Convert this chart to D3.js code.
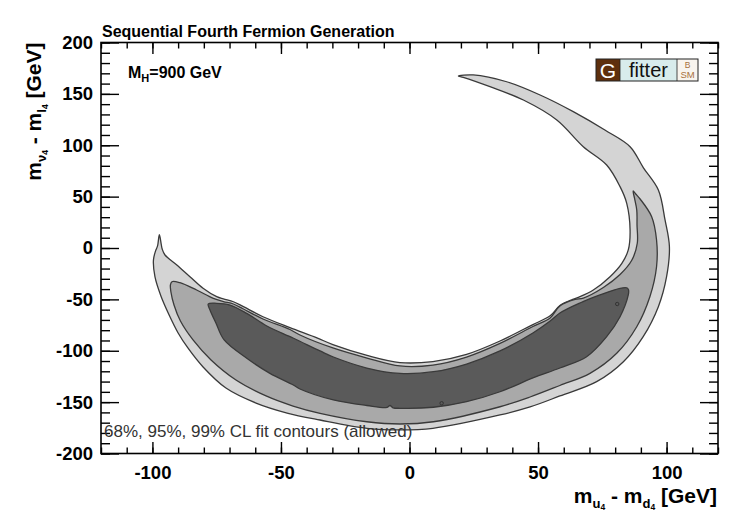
<!DOCTYPE html>
<html>
<head>
<meta charset="utf-8">
<script src="https://cdn.jsdelivr.net/npm/d3@7"></script>
<style>
  html, body { margin: 0; padding: 0; background: #fff; }
  svg { display: block; }
  text { font-family: "Liberation Sans", Arial, Helvetica, sans-serif; }
</style>
</head>
<body>
<svg id="chart" width="736" height="513"></svg>
<script>
// Axis ranges and ticks
const xDomain = [-120, 120];
const yDomain = [-200, 200];
const xMajorTicks = [-100, -50, 0, 50, 100];
const xTickLabels = ["-100", "-50", "0", "50", "100"];
const yMajorTicks = [-200, -150, -100, -50, 0, 50, 100, 150, 200];
const yTickLabels = ["-200", "-150", "-100", "-50", "0", "50", "100", "150", "200"];
const xMinorTicks = d3.range(-120, 121, 10);
const yMinorTicks = d3.range(-200, 201, 10);

// 99% CL allowed region (m_u4 - m_d4, m_nu4 - m_l4) in GeV
const cl99 = [
  [-97.3, 13.0], [-96.6, 4.0], [-96.2, -1.0], [-95.1, -6.8], [-90.5, -16.5],
  [-85.4, -27.9], [-80.3, -39.2], [-75.0, -47.4], [-72.4, -49.6], [-68.5, -52.3],
  [-64.6, -57.1], [-57.0, -66.9], [-46.5, -77.5], [-36.0, -87.5], [-29.8, -94.0],
  [-16.5, -104.5], [-3.7, -111.5], [9.1, -110.5], [22.2, -103.5], [35.2, -90.5],
  [48.0, -74.5], [54.7, -66.0], [58.5, -56.0], [63.5, -50.0], [66.3, -47.4],
  [71.5, -40.9], [78.0, -27.9], [82.6, -14.9], [85.1, -1.9], [85.8, 17.5],
  [84.5, 43.5], [81.9, 59.7], [76.7, 80.8], [67.6, 98.6], [57.3, 124.6],
  [44.3, 144.0], [31.3, 157.0], [20.9, 166.1], [19.0, 167.4], [24.8, 168.4],
  [37.8, 161.8], [50.8, 148.9], [63.7, 132.7], [76.0, 114.8], [85.8, 98.6],
  [91.0, 78.0], [96.8, 56.4], [99.4, 27.3], [101.1, 1.3], [100.0, -27.9],
  [96.8, -57.1], [90.9, -86.3], [83.2, -110.7], [72.8, -130.1], [58.5, -144.0],
  [46.9, -154.7], [35.2, -162.5], [9.1, -175.5], [-3.7, -177.1], [-16.5, -175.5],
  [-34.8, -167.4], [-47.6, -160.6], [-59.7, -150.9], [-71.4, -136.3], [-80.3, -115.8],
  [-86.2, -97.3], [-90.0, -82.7], [-93.5, -65.2], [-96.7, -46.7], [-99.0, -28.2],
  [-99.6, -11.7], [-98.8, -3.0], [-98.0, 2.0]
];

// 95% CL allowed region
const cl95 = [
  [-92.4, -32.8], [-89.3, -33.8], [-82.8, -40.9], [-76.3, -49.0], [-72.4, -52.1],
  [-68.5, -54.5], [-64.6, -59.4], [-57.0, -69.1], [-46.5, -79.3], [-42.6, -84.7],
  [-29.8, -97.3], [-16.5, -107.1], [-3.7, -114.8], [9.1, -113.9], [22.2, -106.1],
  [35.2, -92.8], [48.0, -76.4], [54.7, -68.1], [58.5, -56.4], [64.4, -50.1],
  [67.6, -48.7], [75.4, -38.4], [81.9, -25.8], [86.4, -12.2], [88.6, 4.6],
  [88.5, 22.4], [88.4, 37.0], [87.5, 48.7], [87.0, 55.5], [88.0, 52.6],
  [89.7, 47.7], [94.2, 30.5], [96.1, 7.8], [96.1, -18.2], [93.5, -47.4],
  [88.4, -76.6], [80.6, -102.5], [70.2, -122.0], [58.5, -133.8], [46.9, -145.0],
  [35.2, -154.5], [9.3, -169.1], [-3.7, -171.3], [-16.6, -169.1], [-34.8, -160.9],
  [-45.3, -153.8], [-55.8, -144.0], [-67.5, -128.5], [-77.2, -109.0], [-84.2, -89.5],
  [-89.1, -71.1], [-91.6, -55.5], [-92.8, -42.8], [-93.0, -36.0]
];

// 68% CL allowed region
const cl68 = [
  [-78.3, -54.5], [-75.0, -53.8], [-69.8, -55.5], [-63.3, -63.6], [-55.5, -75.9],
  [-45.3, -87.6], [-34.8, -100.2], [-29.6, -106.1], [-16.6, -116.8], [-3.7, -122.1],
  [9.3, -120.4], [22.2, -112.9], [35.2, -100.2], [48.0, -82.7], [54.7, -71.1],
  [58.5, -63.3], [66.3, -53.5], [74.1, -45.7], [81.9, -39.2], [84.7, -38.9],
  [85.2, -40.9], [85.1, -45.7], [81.9, -66.9], [76.7, -86.3], [68.9, -105.8],
  [58.5, -116.8], [48.0, -126.5], [35.2, -139.9], [22.2, -149.6], [9.3, -155.0],
  [-3.7, -156.0], [-6.4, -155.5], [-7.6, -153.3], [-8.8, -155.2], [-16.6, -153.3],
  [-29.6, -147.9], [-42.6, -137.2], [-45.2, -133.3], [-54.3, -122.0], [-63.3, -107.3],
  [-72.1, -89.5], [-75.3, -73.0], [-77.6, -60.3]
];

// Tiny isolated 68% CL islands
const cl68Islands = [[12.5, -151.1], [80.8, -54.5]];

const regions = [
  { name: "99% CL", points: cl99, fill: "#d4d4d4" },
  { name: "95% CL", points: cl95, fill: "#a9a9a9" },
  { name: "68% CL", points: cl68, fill: "#5a5a5a" }
];

const svg = d3.select("#chart");
const margin = { top: 42.5, right: 18, bottom: 59.5, left: 101 };
const W = 736 - margin.left - margin.right;
const H = 513 - margin.top - margin.bottom;

const x = d3.scaleLinear().domain(xDomain).range([0, W]);
const y = d3.scaleLinear().domain(yDomain).range([H, 0]);

const g = svg.append("g").attr("transform", `translate(${margin.left},${margin.top})`);

// Filled contours, outermost first
const area = d3.line()
  .x(d => x(d[0]))
  .y(d => y(d[1]))
  .curve(d3.curveCatmullRomClosed.alpha(0.5));

g.selectAll("path.contour")
  .data(regions)
  .join("path")
  .attr("class", "contour")
  .attr("d", d => area(d.points))
  .attr("fill", d => d.fill)
  .attr("stroke", "#3a3a3a")
  .attr("stroke-width", 1.3)
  .attr("stroke-linejoin", "round");

g.selectAll("circle.island")
  .data(cl68Islands)
  .join("circle")
  .attr("class", "island")
  .attr("cx", d => x(d[0]))
  .attr("cy", d => y(d[1]))
  .attr("r", 1.7)
  .attr("fill", "#5a5a5a")
  .attr("stroke", "#333")
  .attr("stroke-width", 1);

// Axes with inward ticks on all four sides
function styleAxis(sel) {
  sel.select(".domain").remove();
  sel.selectAll(".tick line").attr("stroke", "#000").attr("stroke-width", 1.4);
  sel.selectAll(".tick text")
    .attr("fill", "#000")
    .style("font-family", '"Liberation Sans", Arial, sans-serif')
    .style("font-weight", "bold")
    .style("font-size", "18.5px");
}

const xLabel = d => xTickLabels[xMajorTicks.indexOf(d)];
const yLabel = d => yTickLabels[yMajorTicks.indexOf(d)];

g.append("g").attr("transform", `translate(0,${H})`)
  .call(d3.axisBottom(x).tickValues(xMinorTicks).tickSize(-6).tickFormat(""))
  .call(styleAxis);
g.append("g").attr("transform", `translate(0,${H})`)
  .call(d3.axisBottom(x).tickValues(xMajorTicks).tickSize(-11.5).tickPadding(12).tickFormat(xLabel))
  .call(styleAxis);
g.append("g")
  .call(d3.axisTop(x).tickValues(xMinorTicks).tickSize(-6).tickFormat(""))
  .call(styleAxis);
g.append("g")
  .call(d3.axisTop(x).tickValues(xMajorTicks).tickSize(-11.5).tickFormat(""))
  .call(styleAxis);

g.append("g")
  .call(d3.axisLeft(y).tickValues(yMinorTicks).tickSize(-9).tickFormat(""))
  .call(styleAxis);
g.append("g")
  .call(d3.axisLeft(y).tickValues(yMajorTicks).tickSize(-18).tickPadding(8).tickFormat(yLabel))
  .call(styleAxis);
g.append("g").attr("transform", `translate(${W},0)`)
  .call(d3.axisRight(y).tickValues(yMinorTicks).tickSize(-9).tickFormat(""))
  .call(styleAxis);
g.append("g").attr("transform", `translate(${W},0)`)
  .call(d3.axisRight(y).tickValues(yMajorTicks).tickSize(-18).tickFormat(""))
  .call(styleAxis);

// Frame
g.append("rect")
  .attr("width", W).attr("height", H)
  .attr("fill", "none").attr("stroke", "#000").attr("stroke-width", 1.6);

// Title
svg.append("text")
  .attr("x", 102).attr("y", 37)
  .attr("font-weight", "bold").attr("font-size", 16)
  .text("Sequential Fourth Fermion Generation");

// Higgs mass annotation
const mh = svg.append("text")
  .attr("x", 128).attr("y", 78)
  .attr("font-weight", "bold").attr("font-size", 16);
mh.append("tspan").text("M");
mh.append("tspan").attr("font-size", 11).attr("dy", 4).text("H");
mh.append("tspan").attr("dy", -4).text("=900 GeV");

// Footnote
svg.append("text")
  .attr("x", 104).attr("y", 437)
  .attr("font-size", 17).attr("fill", "#333")
  .text("68%, 95%, 99% CL fit contours (allowed)");

// Axis titles with nested subscripts
function massDiff(sel, a, b) {
  sel.append("tspan").text("m");
  sel.append("tspan").attr("font-size", 13).attr("dy", 4.5).text(a);
  sel.append("tspan").attr("font-size", 8.5).attr("dy", 2).text("4");
  sel.append("tspan").attr("dy", -6.5).text(" - m");
  sel.append("tspan").attr("font-size", 13).attr("dy", 4.5).text(b);
  sel.append("tspan").attr("font-size", 8.5).attr("dy", 2).text("4");
  sel.append("tspan").attr("dy", -6.5).text(" [GeV]");
}

svg.append("text")
  .attr("x", 717).attr("y", 503)
  .attr("text-anchor", "end")
  .attr("font-weight", "bold").attr("font-size", 21)
  .call(massDiff, "u", "d");

svg.append("text")
  .attr("transform", "translate(41,42.5) rotate(-90)")
  .attr("text-anchor", "end")
  .attr("font-weight", "bold").attr("font-size", 21)
  .call(massDiff, "\u03bd", "l");

// Gfitter logo
const logo = svg.append("g").attr("transform", "translate(596,59)");
logo.append("rect").attr("x", 0).attr("y", 0).attr("width", 24).attr("height", 22).attr("fill", "#5e2f0d");
logo.append("rect").attr("x", 24).attr("y", 0).attr("width", 57).attr("height", 22).attr("fill", "#d8ecec");
logo.append("rect").attr("x", 81).attr("y", 0).attr("width", 21).attr("height", 22).attr("fill", "#f8f4ee");
logo.append("rect").attr("x", 0).attr("y", 0).attr("width", 102).attr("height", 22)
  .attr("fill", "none").attr("stroke", "#222").attr("stroke-width", 1);
logo.append("line").attr("x1", 24).attr("x2", 24).attr("y1", 0).attr("y2", 22).attr("stroke", "#222").attr("stroke-width", 0.8);
logo.append("line").attr("x1", 81).attr("x2", 81).attr("y1", 0).attr("y2", 22).attr("stroke", "#222").attr("stroke-width", 0.8);
logo.append("text").attr("x", 12).attr("y", 18.5).attr("text-anchor", "middle")
  .attr("font-size", 21).attr("fill", "#fff").text("G");
logo.append("text").attr("x", 52.5).attr("y", 18).attr("text-anchor", "middle")
  .attr("font-size", 20).attr("fill", "#111").text("fitter");
logo.append("text").attr("x", 91.5).attr("y", 9).attr("text-anchor", "middle")
  .attr("font-size", 8.5).attr("fill", "#a8703c").text("B");
logo.append("text").attr("x", 91.5).attr("y", 19).attr("text-anchor", "middle")
  .attr("font-size", 9.5).attr("fill", "#a8703c").text("SM");
</script>
</body>
</html>
